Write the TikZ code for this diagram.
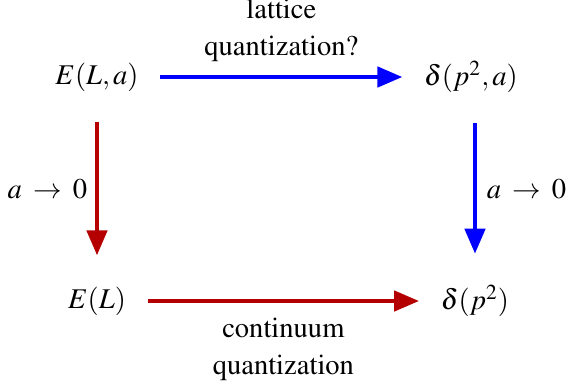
\documentclass[tikz,border=0pt]{standalone}
\usepackage[T1]{fontenc}
\usepackage{mathptmx}
\usetikzlibrary{arrows.meta, positioning}
\definecolor{cLat}{RGB}{0,0,255}
\definecolor{cCont}{RGB}{180,0,0}
\tikzset{
  obj/.style={inner xsep=9pt, inner ysep=4pt, font=\fontsize{12}{15.5}\selectfont},
  lbl/.style={align=center, font=\fontsize{12}{15.5}\selectfont},
  map/.style={-{Triangle[length=10.5pt, width=8.5pt]}, draw=#1, line width=1.7pt},
}
\newcommand{\tozero}{$a\mkern3mu\rightarrow\mkern3mu 0$}

\begin{document}
\begin{tikzpicture}[x=0.42pt, y=-0.42pt]
\useasboundingbox (0,0) rectangle (580,385);
% corners of the square
\node[obj] (ela) at (97,77) {$E(L,a)$};
\node[obj] (dpa) at (471,77) {$\delta(p^2,a)$};
\node[obj] (el) at (97,301) {$E(L)$};
\node[obj] (dp) at (475,301) {$\delta(p^2)$};
% maps between them
\draw[map=cLat] (ela) -- (dpa) node[midway, above=2.2pt, lbl] (lq) {lattice\\ quantization?};
\draw[map=cCont] (el) -- (dp) node[midway, below=3pt, lbl] (cq) {continuum\\ quantization};
\draw[map=cCont, shorten <=8.5pt, shorten >=9pt] (ela) -- (el) node[midway, left=0pt, lbl] (la) {\tozero};
\draw[map=cLat, shorten <=8.5pt, shorten >=9pt] (dp |- dpa.south) -- (dp.north) node[midway, right=0.8pt, lbl] (ra) {\tozero};
\end{tikzpicture}
\end{document}
